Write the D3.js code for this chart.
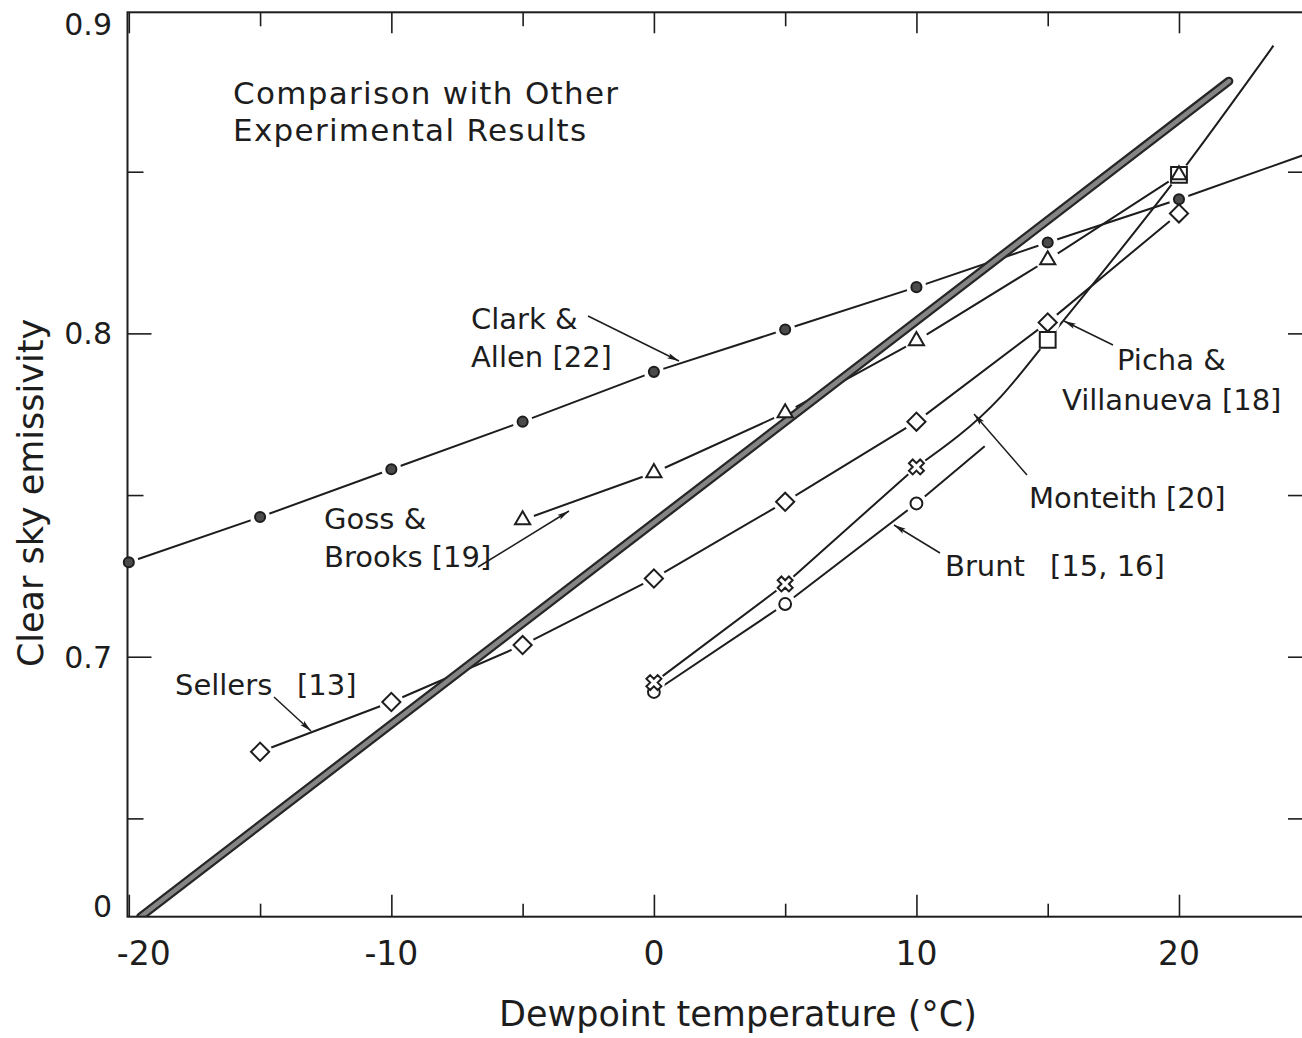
<!DOCTYPE html>
<html>
<head>
<meta charset="utf-8">
<script src="https://cdn.jsdelivr.net/npm/d3@7"></script>
<style>
  html, body { margin: 0; padding: 0; background: #fff; }
  svg { display: block; }
  text { font-family: "DejaVu Sans", sans-serif; fill: #1d1d1d; }
</style>
</head>
<body>
<svg id="chart" width="1302" height="1038"></svg>
<script>
// Dewpoint temperature (°C) and clear sky emissivity for each data set
const clarkAllenT = [-20, -15, -10, -5, 0, 5, 10, 15, 20, 24.8];
const clarkAllenE = [0.7292, 0.7432, 0.7580, 0.7727, 0.7881, 0.8012, 0.8143, 0.8281, 0.8415, 0.8553];
const clarkAllenMarked = 9;            // first nine points carry a dot

const gossBrooksT = [-5, 0, 5, 10, 15, 20];
const gossBrooksE = [0.7423, 0.7569, 0.7754, 0.7977, 0.8227, 0.8490];

const sellersT = [-15, -10, -5, 0, 5, 10, 15, 20];
const sellersE = [0.6706, 0.6860, 0.7036, 0.7242, 0.7479, 0.7727, 0.8034, 0.8371];

const bruntT = [0, 5, 10, 12.6];
const bruntE = [0.6891, 0.7163, 0.7474, 0.7651];
const bruntMarked = 3;

const monteithT = [0, 5, 10, 13.2, 15, 20, 23.6];
const monteithE = [0.6920, 0.7225, 0.7587, 0.7803, 0.7980, 0.8490, 0.8890];
const monteithMarked = 3;

const pichaT = [15, 20];
const pichaE = [0.7980, 0.8490];

// present correlation (heavy line)
const presentT = [-19.55, 21.9];
const presentE = [0.6196, 0.8780];

// axis ticks and labels
const xMajorTicks = [-20, -10, 0, 10, 20];
const xMinorTicks = [-15, -5, 5, 15];
const xTickLabels = ["-20", "-10", "0", "10", "20"];
const yMajorTicks = [0.7, 0.8];
const yMinorTicks = [0.65, 0.75, 0.85];
const yLabelValues = [0.9, 0.8, 0.7, 0.6196];
const yLabelTexts = ["0.9", "0.8", "0.7", "0"];

const svg = d3.select("#chart");
const ink = "#1d1d1d";

const pLeft = 127.5, pRight = 1305, pTop = 12.3, pBottom = 916.7;
const x = d3.scaleLinear().domain([-20.05, 24.8]).range([pLeft, pRight]);
const y = d3.scaleLinear().domain([0.6196, 0.8993]).range([pBottom, pTop]);

const zip = (t, e) => t.map((v, i) => [v, e[i]]);
const straight = d3.line().x(d => x(d[0])).y(d => y(d[1]));
const smooth = d3.line().x(d => x(d[0])).y(d => y(d[1])).curve(d3.curveMonotoneX);

const defs = svg.append("defs");
defs.append("clipPath").attr("id", "plot")
  .append("rect").attr("x", pLeft).attr("y", pTop)
  .attr("width", pRight - pLeft).attr("height", pBottom - pTop);

defs.append("marker")
  .attr("id", "head").attr("viewBox", "0 0 12 8")
  .attr("refX", 12).attr("refY", 4)
  .attr("markerWidth", 12).attr("markerHeight", 8)
  .attr("markerUnits", "userSpaceOnUse").attr("orient", "auto")
  .append("path").attr("d", "M0,1.2 L12,4 L0,6.8 L2.5,4 Z").attr("fill", ink);

// series definitions: points, how many are marked, symbol, shape of the unmarked tail
const series = [
  { pts: zip(pichaT, pichaE), marked: pichaT.length, sym: "square", gap: 12, noLine: true },
  { pts: zip(clarkAllenT, clarkAllenE), marked: clarkAllenMarked, sym: "dot", gap: 10, tail: straight },
  { pts: zip(gossBrooksT, gossBrooksE), marked: gossBrooksT.length, sym: "triangle", gap: 12, tail: straight },
  { pts: zip(sellersT, sellersE), marked: sellersT.length, sym: "diamond", gap: 12, tail: straight },
  { pts: zip(bruntT, bruntE), marked: bruntMarked, sym: "circle", gap: 11, tail: straight },
  { pts: zip(monteithT, monteithE), marked: monteithMarked, sym: "cross", gap: 11, tail: smooth }
];

const plot = svg.append("g").attr("clip-path", "url(#plot)");

// thin connecting lines: straight between plotted points, then the curve beyond them
series.filter(s => !s.noLine).forEach(s => {
  const parts = [straight(s.pts.slice(0, s.marked))];
  if (s.marked < s.pts.length) parts.push(s.tail(s.pts.slice(s.marked - 1)));
  parts.forEach(d => {
    plot.append("path").attr("d", d)
      .attr("fill", "none").attr("stroke", ink).attr("stroke-width", 2)
      .attr("stroke-linejoin", "round");
  });
});

// white gaps around every plotted point
series.forEach(s => {
  plot.append("g").selectAll("circle").data(s.pts.slice(0, s.marked)).join("circle")
    .attr("cx", d => x(d[0])).attr("cy", d => y(d[1]))
    .attr("r", s.gap).attr("fill", "#fff");
});

// heavy line of the present correlation
const present = zip(presentT, presentE);
plot.append("path").attr("d", straight(present))
  .attr("fill", "none").attr("stroke", "#262626").attr("stroke-width", 9)
  .attr("stroke-linecap", "round");
plot.append("path").attr("d", straight(present))
  .attr("fill", "none").attr("stroke", "#858585").attr("stroke-width", 4.5)
  .attr("stroke-linecap", "round");

// axes: ticks on all four sides, frame drawn separately
function ticks(axisFn, scale, values, size, transform) {
  const g = svg.append("g").attr("transform", transform)
    .call(axisFn(scale).tickValues(values).tickSize(size).tickFormat(""));
  g.select(".domain").remove();
  g.selectAll("line").attr("stroke", ink).attr("stroke-width", 1.6);
}
ticks(d3.axisBottom, x, xMajorTicks, -22, `translate(0,${pBottom})`);
ticks(d3.axisBottom, x, xMinorTicks, -13, `translate(0,${pBottom})`);
ticks(d3.axisTop, x, xMajorTicks, -21, `translate(0,${pTop})`);
ticks(d3.axisTop, x, xMinorTicks, -14, `translate(0,${pTop})`);
ticks(d3.axisLeft, y, yMajorTicks, -24, `translate(${pLeft},0)`);
ticks(d3.axisLeft, y, yMinorTicks, -16, `translate(${pLeft},0)`);
ticks(d3.axisRight, y, yMajorTicks.concat(yMinorTicks), -17, `translate(${pRight},0)`);

svg.append("rect").attr("x", pLeft).attr("y", pTop)
  .attr("width", pRight - pLeft).attr("height", pBottom - pTop)
  .attr("fill", "none").attr("stroke", ink).attr("stroke-width", 2);

// markers
const symbols = {
  dot: { type: d3.symbolCircle, size: 80, fill: "#4a4a4a", rot: 0 },
  triangle: { type: d3.symbolTriangle, size: 100, fill: "#fff", rot: 0 },
  diamond: { type: d3.symbolSquare, size: 165, fill: "#fff", rot: 45 },
  circle: { type: d3.symbolCircle, size: 110, fill: "#fff", rot: 0 },
  cross: { type: d3.symbolCross, size: 140, fill: "#fff", rot: 45 },
  square: { type: d3.symbolSquare, size: 250, fill: "#fff", rot: 0 }
};
series.forEach(s => {
  const sp = symbols[s.sym];
  svg.append("g").selectAll("path").data(s.pts.slice(0, s.marked)).join("path")
    .attr("d", d3.symbol().type(sp.type).size(sp.size))
    .attr("transform", d => `translate(${x(d[0])},${y(d[1])}) rotate(${sp.rot})`)
    .attr("fill", sp.fill).attr("stroke", ink).attr("stroke-width", 2);
});

// tick labels
svg.append("g").selectAll("text").data(xMajorTicks).join("text")
  .attr("x", (d, i) => x(d) + (i === 0 ? 15 : 0))
  .attr("y", 965)
  .attr("text-anchor", "middle").attr("font-size", 33)
  .text((d, i) => xTickLabels[i]);

svg.append("g").selectAll("text").data(yLabelValues).join("text")
  .attr("x", 112)
  .attr("y", d => Math.min(Math.max(y(d), pTop + 11.5), pBottom - 11))
  .attr("dy", "0.36em")
  .attr("text-anchor", "end").attr("font-size", 30)
  .text((d, i) => yLabelTexts[i]);

// axis titles
svg.append("text").attr("x", 738).attr("y", 1026)
  .attr("text-anchor", "middle").attr("font-size", 35)
  .text("Dewpoint temperature (°C)");
svg.append("text").attr("transform", "translate(43,493) rotate(-90)")
  .attr("text-anchor", "middle").attr("font-size", 35)
  .text("Clear sky emissivity");

// heading inside the plot
const heading = svg.append("g").attr("font-size", 31).attr("letter-spacing", 1.3);
heading.append("text").attr("x", 233).attr("y", 104).text("Comparison with Other");
heading.append("text").attr("x", 233).attr("y", 141).text("Experimental Results");

// series labels with pointer arrows
const notes = [
  { lines: [[["Clark &", 471]], [["Allen [22]", 471]]], base: [329, 367], arrow: [[588, 316], [679, 361]] },
  { lines: [[["Goss &", 324]], [["Brooks [19]", 324]]], base: [529, 567], arrow: [[478, 567], [569, 511]] },
  { lines: [[["Sellers", 175], ["[13]", 297]]], base: [695], arrow: [[274, 697], [311, 731]] },
  { lines: [[["Picha &", 1117]], [["Villanueva [18]", 1062]]], base: [370, 410], arrow: [[1113, 345], [1064, 321]] },
  { lines: [[["Monteith", 1029], ["[20]", 1166]]], base: [508], arrow: [[1027, 475], [974, 414]] },
  { lines: [[["Brunt", 945], ["[15, 16]", 1050]]], base: [576], arrow: [[940, 553], [894, 525]] }
];
const ng = svg.append("g").attr("font-size", 29);
notes.forEach(n => {
  n.lines.forEach((pieces, li) => {
    pieces.forEach(([txt, px]) => {
      ng.append("text").attr("x", px).attr("y", n.base[li]).text(txt);
    });
  });
  ng.append("line")
    .attr("x1", n.arrow[0][0]).attr("y1", n.arrow[0][1])
    .attr("x2", n.arrow[1][0]).attr("y2", n.arrow[1][1])
    .attr("stroke", ink).attr("stroke-width", 1.5)
    .attr("marker-end", "url(#head)");
});
</script>
</body>
</html>
